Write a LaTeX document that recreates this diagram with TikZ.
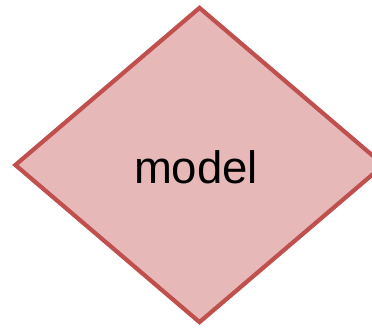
\documentclass[tikz,border=0pt]{standalone}
\usepackage{fontspec}
\setmainfont{Liberation Sans}
\usetikzlibrary{shapes.geometric}
\definecolor{dfill}{HTML}{E6B8B7}
\definecolor{dline}{HTML}{C0504D}
\tikzset{
  decision/.style={diamond, draw=dline, fill=dfill, line width=4.2pt, inner sep=0pt,
    minimum width=370pt, minimum height=316pt, line join=miter},
  lbl/.style={font=\fontsize{45.5}{54}\selectfont, text=black, inner sep=0pt}
}
\begin{document}
\begin{tikzpicture}[x=1pt,y=-1pt]
\useasboundingbox (0,0) rectangle (372,328);
\node[decision] (d) at (199.5,165) {};
\node[lbl] (t) at (196,167.5) {model};
\end{tikzpicture}
\end{document}
